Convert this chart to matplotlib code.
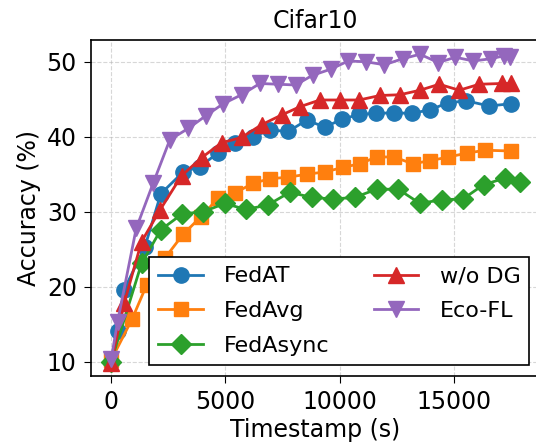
import numpy as np
import matplotlib
matplotlib.use("Agg")
import matplotlib.pyplot as plt

# values
fedat_t = [0, 280, 570, 1476, 2176, 3152, 3884, 4658, 5416, 6217, 6948, 7750, 8555,
           9357, 10087, 10858, 11589, 12378, 13152, 13954, 14729, 15530, 16550, 17487]
fedat_acc = [10.0, 14.1, 19.6, 25.3, 32.4, 35.3, 36.0, 37.8, 39.1, 40.0, 40.9, 40.7, 42.2,
             41.3, 42.3, 43.0, 43.1, 43.2, 43.1, 43.6, 44.5, 44.8, 44.1, 44.4]

fedavg_t = [0, 920, 1550, 2351, 3152, 3920, 4685, 5416, 6217, 6948, 7750, 8555, 9357,
            10131, 10889, 11620, 12378, 13196, 13954, 14755, 15561, 16362, 17487]
fedavg_acc = [10.2, 15.7, 20.2, 23.8, 27.0, 29.3, 31.8, 32.5, 33.8, 34.4, 34.6, 35.0, 35.3,
              35.9, 36.4, 37.3, 37.3, 36.4, 36.8, 37.3, 37.8, 38.2, 38.1]

fedasync_t = [0, 1331, 2176, 3110, 4028, 4978, 5900, 6860, 7824, 8774, 9710, 10655,
              11620, 12566, 13516, 14466, 15400, 16300, 17260, 17894]
fedasync_acc = [10.0, 23.1, 27.6, 29.7, 30.0, 31.1, 30.3, 30.9, 32.6, 31.9, 31.7, 31.9,
                33.0, 33.0, 31.1, 31.6, 31.7, 33.6, 34.5, 34.0]

wodg_t = [0, 570, 1330, 2132, 3082, 3958, 4834, 5709, 6585, 7460, 8262, 9137, 10013,
          10858, 11765, 12640, 13516, 14361, 15237, 16112, 17093, 17487]
wodg_acc = [9.8, 17.8, 26.0, 30.2, 34.8, 37.2, 39.2, 39.9, 41.6, 42.9, 44.0, 44.9, 44.9,
            44.9, 45.5, 45.6, 46.2, 47.0, 46.2, 47.0, 47.1, 47.1]

ecofl_t = [0, 280, 1100, 1839, 2570, 3371, 4146, 4904, 5709, 6510, 7312, 8073, 8817,
           9606, 10377, 11151, 11960, 12760, 13516, 14317, 15070, 15849, 16620, 17200, 17470]
ecofl_acc = [10.3, 15.3, 27.8, 33.8, 39.6, 41.1, 42.8, 44.4, 45.6, 47.1, 47.0, 46.9, 48.2,
             49.0, 50.1, 50.0, 49.6, 50.4, 51.0, 49.9, 50.6, 50.1, 50.4, 50.8, 50.7]

fig = plt.figure(figsize=(5.36, 4.47), dpi=100)
ax = fig.add_axes([0.1692, 0.1595, 0.839, 0.751])

fs = 17
ax.plot(fedat_t, fedat_acc, color='tab:blue', marker='o', ms=11, lw=2, label='FedAT')
ax.plot(fedavg_t, fedavg_acc, color='tab:orange', marker='s', ms=10.5, lw=2, label='FedAvg')
ax.plot(fedasync_t, fedasync_acc, color='tab:green', marker='D', ms=10, lw=2, label='FedAsync')
ax.plot(wodg_t, wodg_acc, color='tab:red', marker='^', ms=11, lw=2, label='w/o DG')
ax.plot(ecofl_t, ecofl_acc, color='tab:purple', marker='v', ms=11, lw=2, label='Eco-FL')

ax.set_xlim(-895, 18789)
ax.set_ylim(8.13, 52.9)
ax.set_xticks([0, 5000, 10000, 15000])
ax.set_yticks([10, 20, 30, 40, 50])
ax.tick_params(labelsize=fs, length=5, pad=5)
ax.grid(True, linestyle='--', alpha=0.5)
for s in ax.spines.values():
    s.set_linewidth(1.2)

ax.set_title('Cifar10', fontsize=fs, pad=8.5)
ax.set_xlabel('Timestamp (s)', fontsize=fs, labelpad=3.5)
ax.set_ylabel('Accuracy (%)', fontsize=fs)

leg = ax.legend(loc='lower right', ncol=2, fontsize=16, fancybox=False,
                framealpha=1, edgecolor='black', bbox_to_anchor=(1.0, 0.0),
                labelspacing=0.66, handletextpad=0.95)
leg.get_frame().set_linewidth(1.2)

fig.savefig('out.png', dpi=100)
